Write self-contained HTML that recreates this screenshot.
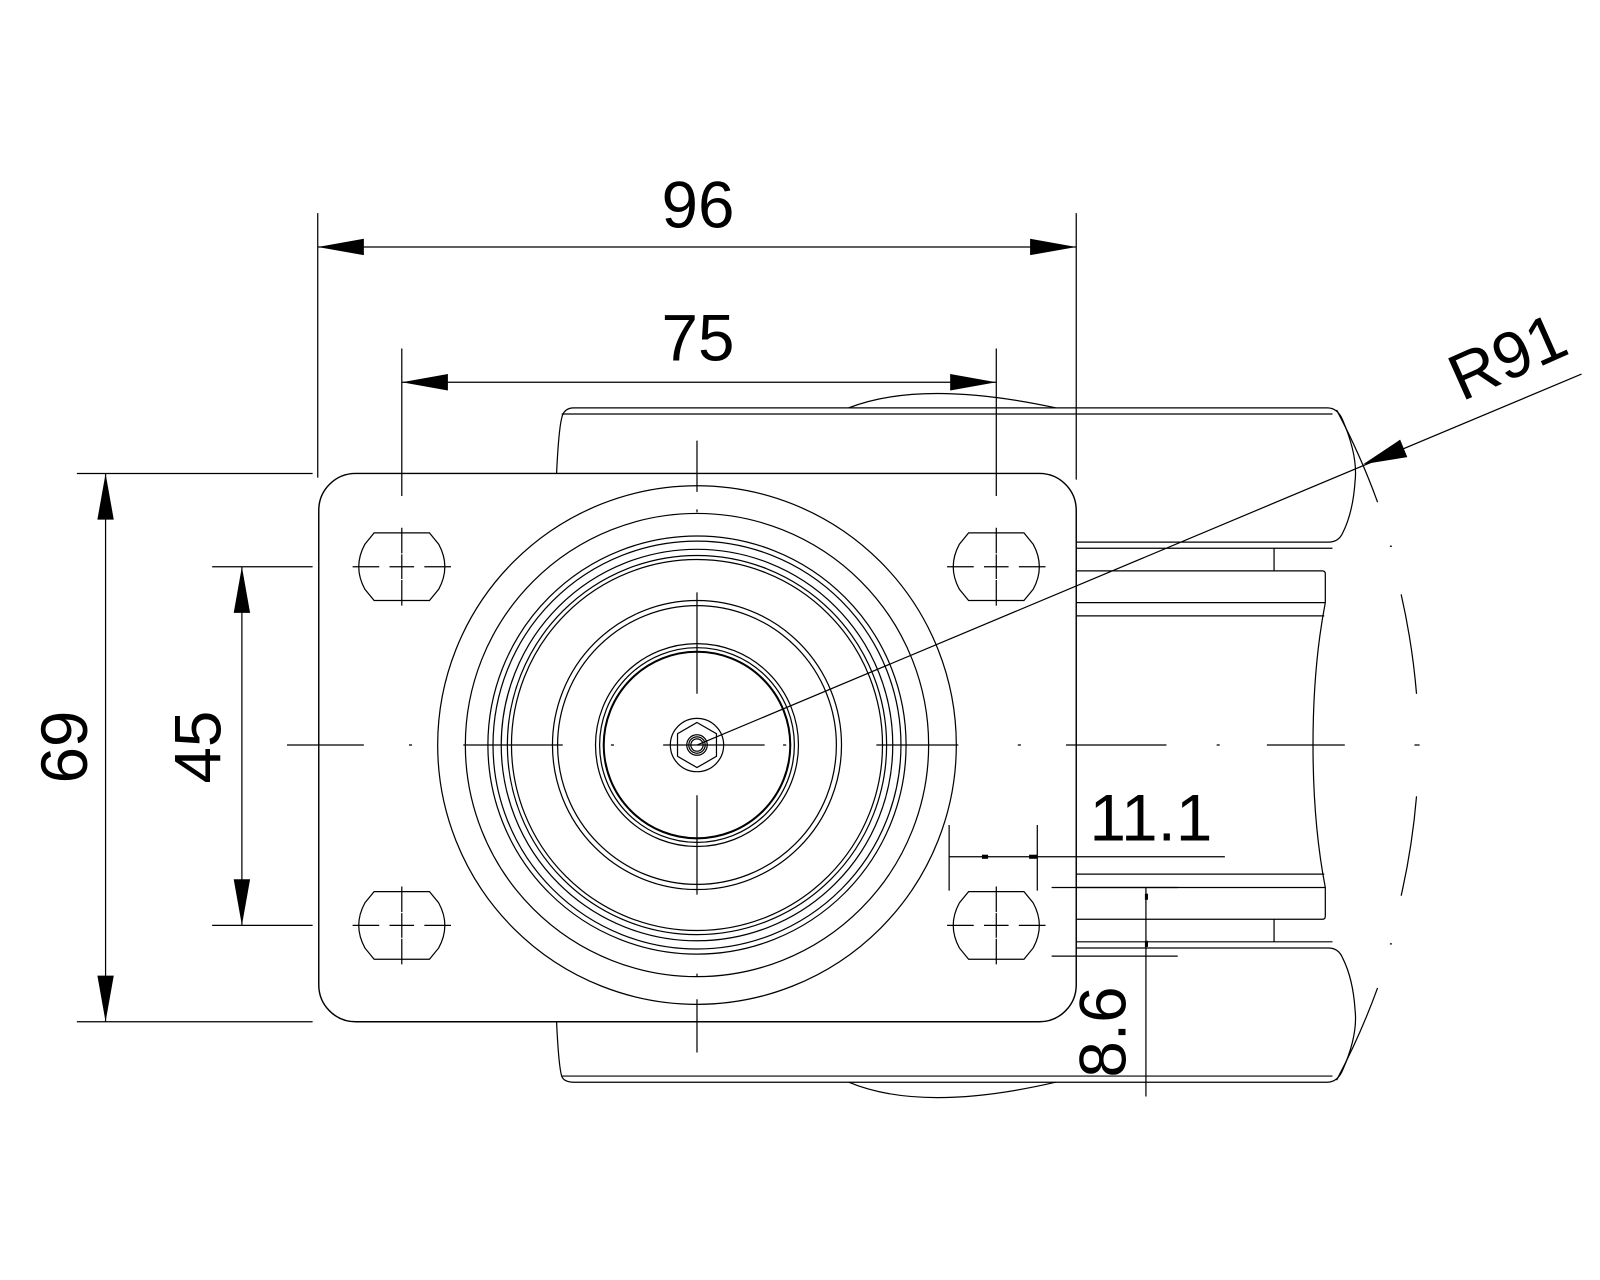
<!DOCTYPE html>
<html><head><meta charset="utf-8"><style>
html,body{margin:0;padding:0;background:#fff;}
svg{display:block;}
text{font-family:"Liberation Sans",Arial,sans-serif;fill:#000;}
</style></head><body>
<svg width="1600" height="1280" viewBox="0 0 1561 1249" preserveAspectRatio="none" xmlns="http://www.w3.org/2000/svg">
<g fill="none" stroke="#000" stroke-width="1.2">
<!-- plate -->
<rect x="311" y="462" width="739" height="535" rx="36" ry="36" stroke-width="1.4"/>
<!-- holes -->
<path id="h" d="M365,520 H419 L428,531 Q440,553 428,575 L419,586 H365 L356,575 Q344,553 356,531 Z"/>
<path d="M945,520 H999 L1008,531 Q1020,553 1008,575 L999,586 H945 L936,575 Q924,553 936,531 Z"/>
<path d="M365,870 H419 L428,881 Q440,903 428,925 L419,936 H365 L356,925 Q344,903 356,881 Z"/>
<path d="M945,870 H999 L1008,881 Q1020,903 1008,925 L999,936 H945 L936,925 Q924,903 936,881 Z"/>
<!-- wheel circles -->
<circle cx="680" cy="727" r="253"/>
<circle cx="680" cy="727" r="226"/>
<circle cx="680" cy="727" r="204"/>
<circle cx="680" cy="727" r="199"/>
<circle cx="680" cy="727" r="191"/>
<circle cx="680" cy="727" r="185"/>
<circle cx="680" cy="727" r="181"/>
<circle cx="680" cy="727" r="141"/>
<circle cx="680" cy="727" r="136"/>
<circle cx="680" cy="727" r="99"/>
<circle cx="680" cy="727" r="95"/>
<circle cx="680" cy="727" r="91" stroke-width="2"/>
<circle cx="680" cy="727" r="26"/>
<polygon points="680,705 699,716 699,738 680,749 661,738 661,716"/>
<circle cx="680" cy="727" r="10"/>
<circle cx="680" cy="727" r="8"/>
<circle cx="680" cy="727" r="6"/>
<!-- fork top arm -->
<path d="M543,462 Q545,420 548,408 Q550,398 560,398 H1295 Q1305,398 1310,410 Q1325,445 1322,470 Q1320,500 1310,520 Q1306,529 1296,529 H1050"/>
<path d="M548,404 H1300"/>
<path d="M1050,535 H1300"/>
<path d="M828,398 Q900,370 1030,398"/>
<!-- fork bottom arm -->
<path d="M543,997 Q545,1040 548,1050 Q550,1056 560,1056 H1295 Q1305,1056 1310,1044 Q1325,1010 1322,985 Q1320,955 1310,935 Q1306,925 1296,925 H1050"/>
<path d="M548,1050 H1300"/>
<path d="M1050,919 H1300"/>
<path d="M828,1056 Q900,1086 1030,1056"/>
<!-- hub / axle -->
<path d="M1243,535 V557 M1243,897 V919"/>
<path d="M1050,557 H1290 Q1293,557 1293,560 V588 Q1281,650 1281,727 Q1281,804 1293,866 V894 Q1293,897 1290,897 H1050"/>
<path d="M1050,588 H1293 M1050,601 H1292 M1050,853 H1292 M1050,866 H1293"/>
<!-- R91 arcs -->
<path d="M1304,400 A704,704 0 0 1 1344,490"/>
<path d="M1367,580 A704,704 0 0 1 1382,677"/>
<path d="M1382,777 A704,704 0 0 1 1367,874"/>
<path d="M1344,964 A704,704 0 0 1 1304,1054"/>
<path d="M1356,533 l2,0 M1356,921 l2,0 M1383,727 l2,0"/>
<!-- center lines -->
<path d="M280,727 H355 M399,727 H402 M452,727 H549 M596,727 H599 M647,727 H746 M764,727 H767 M855,727 H935 M993,727 H996 M1040,727 H1138 M1187,727 H1190 M1236,727 H1312 M1380,727 H1383"/>
<path d="M680,430 V480 M680,497 V500 M680,578 V677 M680,776 V873 M680,950 V953 M680,975 V1027"/>
<!-- hole center lines -->
<g>
<path d="M344,553 H370 M382,553 H384 M380,553 H404 M400,553 H402 M414,553 H440 M392,515 V540 M392,545 V547 M392,541 V565 M392,559 V561 M392,566 V591"/>
<path d="M924,553 H950 M962,553 H964 M960,553 H984 M980,553 H982 M994,553 H1020 M972,515 V540 M972,545 V547 M972,541 V565 M972,559 V561 M972,566 V591"/>
<path d="M344,903 H370 M382,903 H384 M380,903 H404 M400,903 H402 M414,903 H440 M392,865 V890 M392,895 V897 M392,891 V915 M392,909 V911 M392,916 V941"/>
<path d="M924,903 H950 M962,903 H964 M960,903 H984 M980,903 H982 M994,903 H1020 M972,865 V890 M972,895 V897 M972,891 V915 M972,909 V911 M972,916 V941"/>
</g>
<!-- dimension lines -->
<path d="M310,208 V466 M1050,208 V468 M310,241 H1050"/>
<path d="M392,340 V484 M972,340 V484 M392,373 H972"/>
<path d="M75,462 H305 M75,997 H305 M103,462 V997"/>
<path d="M207,553 H305 M207,903 H305 M236,553 V903"/>
<path d="M926,805 V869 M1012,805 V869 M926,836 H1195"/>
<path d="M1026,866 H1149 M1026,933 H1149 M1118,866 V1070"/>
<!-- R91 leader -->
<path d="M680,727 L1543,365"/>
</g>
<g fill="#000" stroke="none">
<polygon points="310,241 355,233 355,249"/>
<polygon points="1050,241 1005,233 1005,249"/>
<polygon points="392,373 437,365 437,381"/>
<polygon points="972,373 927,365 927,381"/>
<polygon points="103,462 95,507 111,507"/>
<polygon points="103,997 95,952 111,952"/>
<polygon points="236,553 228,598 244,598"/>
<polygon points="236,903 228,858 244,858"/>
<polygon points="1330,453 1366,429 1373,446"/>
<rect x="958" y="834" width="6" height="4"/>
<rect x="1004" y="834" width="8" height="4"/>
<rect x="1117" y="872" width="3" height="6"/>
<rect x="1117" y="918" width="3" height="6"/>
</g>
<g font-size="64">
<text x="681" y="222" text-anchor="middle">96</text>
<text x="681" y="352" text-anchor="middle">75</text>
<text transform="translate(85,729) rotate(-90)" text-anchor="middle">69</text>
<text transform="translate(215,729) rotate(-90)" text-anchor="middle">45</text>
<text x="1063" y="820">11.1</text>
<text transform="translate(1098,1007) rotate(-90)" text-anchor="middle">8.6</text>
<text transform="translate(1426,392) rotate(-24)">R91</text>
</g>
</svg>
</body></html>
